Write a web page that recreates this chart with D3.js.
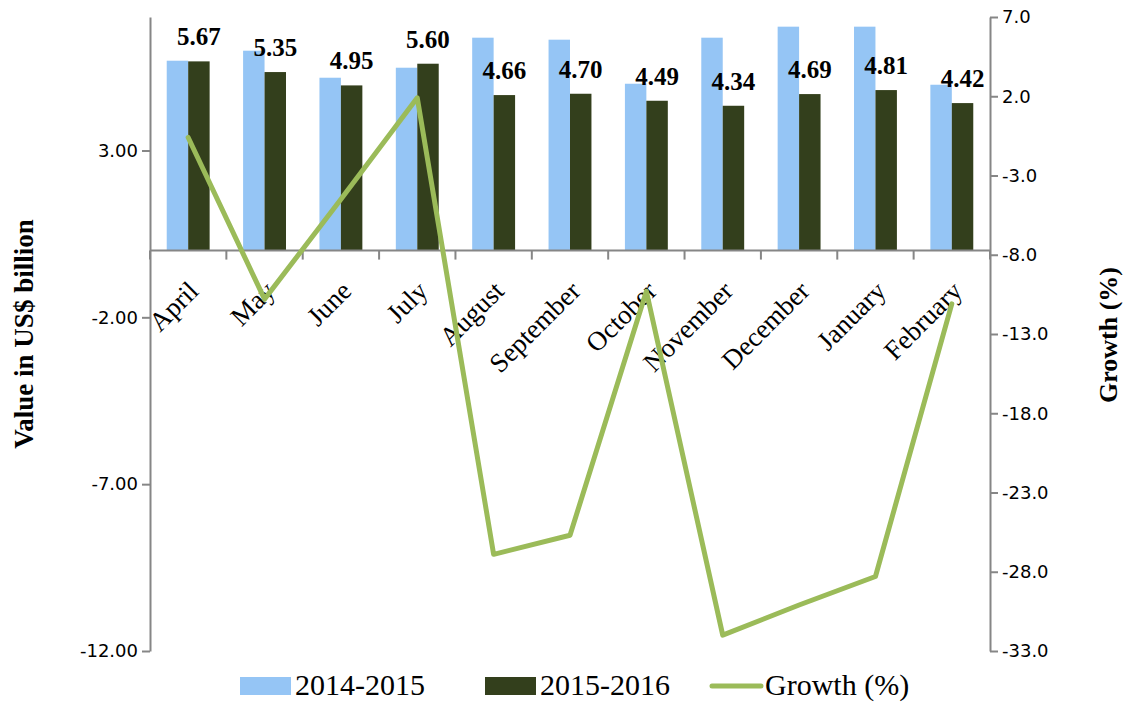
<!DOCTYPE html>
<html>
<head>
<meta charset="utf-8">
<script src="https://cdn.jsdelivr.net/npm/d3@7"></script>
<style>
  body { margin: 0; background: #fff; }
  svg { display: block; }
</style>
</head>
<body>
<div id="chart"></div>
<script>
var months = ["April", "May", "June", "July", "August", "September",
              "October", "November", "December", "January", "February"];
var series = ["2014-2015", "2015-2016"];
var values_2014 = [5.69, 5.99, 5.18, 5.48, 6.38, 6.32, 5.00, 6.38, 6.71, 6.71, 4.97];
var values_2015 = [5.67, 5.35, 4.95, 5.60, 4.66, 4.70, 4.49, 4.34, 4.69, 4.81, 4.42];
var growth = [-0.6, -10.8, -4.5, 1.9, -26.9, -25.7, -10.3, -32.0, -30.1, -28.3, -11.1];
var left_ticks = [3, -2, -7, -12];
var right_ticks = [7, 2, -3, -8, -13, -18, -23, -28, -33];

var colors = { "2014-2015": "#95c5f5", "2015-2016": "#333f1c", growth: "#9bbb59" };
var serif = "'Liberation Serif', 'Times New Roman', serif";
var sans = "'DejaVu Sans', Verdana, sans-serif";

var width = 1124, height = 703;
var margin = { top: 17, right: 134, bottom: 52, left: 150 };

var svg = d3.select("#chart").append("svg")
    .attr("width", width)
    .attr("height", height);

var x = d3.scaleBand()
    .domain(months)
    .range([margin.left, width - margin.right]);

var xInner = d3.scaleBand()
    .domain(series)
    .range([0, x.bandwidth()])
    .paddingOuter(0.78);

var y = d3.scaleLinear()
    .domain([-12, 7])
    .range([height - margin.bottom, margin.top]);

var yRight = d3.scaleLinear()
    .domain([-33, 7])
    .range([height - margin.bottom, margin.top]);

var rows = months.map(function(m, i) {
    return { month: m, "2014-2015": values_2014[i], "2015-2016": values_2015[i], growth: growth[i] };
});

// bars
var groups = svg.append("g").selectAll("g")
    .data(rows)
    .enter().append("g")
    .attr("transform", function(d) { return "translate(" + x(d.month) + ",0)"; });

groups.selectAll("rect")
    .data(function(d) { return series.map(function(s) { return { key: s, value: d[s] }; }); })
    .enter().append("rect")
    .attr("x", function(d) { return xInner(d.key); })
    .attr("width", xInner.bandwidth())
    .attr("y", function(d) { return y(d.value); })
    .attr("height", function(d) { return y(0) - y(d.value); })
    .style("fill", function(d) { return colors[d.key]; });

// data labels on 2015-2016
svg.append("g").selectAll("text")
    .data(rows)
    .enter().append("text")
    .attr("x", function(d) { return x(d.month) + xInner("2015-2016") + xInner.bandwidth() / 2; })
    .attr("y", function(d) { return y(d["2015-2016"]) - 16; })
    .attr("text-anchor", "middle")
    .style("font-family", serif)
    .style("font-weight", "bold")
    .style("font-size", "25px")
    .text(function(d) { return d["2015-2016"].toFixed(2); });

// left axis
var leftAxis = svg.append("g")
    .attr("transform", "translate(" + margin.left + ",0)")
    .call(d3.axisLeft(y).tickValues(left_ticks).tickSize(8).tickSizeOuter(0)
        .tickFormat(function(d) { return d.toFixed(2); }));

// right axis
var rightAxis = svg.append("g")
    .attr("transform", "translate(" + (width - margin.right) + ",0)")
    .call(d3.axisRight(yRight).tickValues(right_ticks).tickSize(8).tickSizeOuter(0)
        .tickFormat(function(d) { return d.toFixed(1); }));

[leftAxis, rightAxis].forEach(function(a) {
    a.select(".domain").style("stroke", "#868686").style("stroke-width", 2);
    a.selectAll(".tick line").style("stroke", "#868686").style("stroke-width", 2);
    a.selectAll(".tick text")
        .style("font-family", sans)
        .style("font-size", "18px")
        .style("fill", "#000");
});
leftAxis.selectAll(".tick text").attr("x", -12);
rightAxis.selectAll(".tick text").attr("x", 12);

// category axis on the zero line
var xAxis = svg.append("g")
    .attr("transform", "translate(0," + y(0) + ")");
xAxis.append("line")
    .attr("x1", margin.left).attr("x2", width - margin.right)
    .style("stroke", "#868686").style("stroke-width", 2);
xAxis.selectAll("line.tick")
    .data(months.concat(["end"]))
    .enter().append("line")
    .attr("class", "tick")
    .attr("x1", function(d, i) { return i < months.length ? x(d) : x.range()[1]; })
    .attr("x2", function(d, i) { return i < months.length ? x(d) : x.range()[1]; })
    .attr("y1", 0).attr("y2", 9)
    .style("stroke", "#868686").style("stroke-width", 2);

svg.append("g").selectAll("text")
    .data(months)
    .enter().append("text")
    .attr("text-anchor", "end")
    .attr("transform", function(d) {
        return "translate(" + (x(d) + x.bandwidth() / 2 + 12) + "," + (y(0) + 42) + ") rotate(-45)";
    })
    .style("font-family", serif)
    .style("font-size", "27px")
    .text(function(d) { return d; });

// growth line
var line = d3.line()
    .x(function(d) { return x(d.month) + x.bandwidth() / 2; })
    .y(function(d) { return yRight(d.growth); });

svg.append("path")
    .datum(rows)
    .attr("d", line)
    .style("fill", "none")
    .style("stroke", colors.growth)
    .style("stroke-width", 5)
    .style("stroke-linejoin", "round")
    .style("stroke-linecap", "round");

// axis titles
svg.append("text")
    .attr("transform", "translate(33," + 334 + ") rotate(-90)")
    .attr("text-anchor", "middle")
    .style("font-family", serif)
    .style("font-weight", "bold")
    .style("font-size", "27px")
    .text("Value in US$ billion");

svg.append("text")
    .attr("transform", "translate(1117," + 335 + ") rotate(-90)")
    .attr("text-anchor", "middle")
    .style("font-family", serif)
    .style("font-weight", "bold")
    .style("font-size", "26px")
    .text("Growth (%)");

// legend
var legendItems = [
    { label: "2014-2015", type: "rect", color: colors["2014-2015"], x: 240 },
    { label: "2015-2016", type: "rect", color: colors["2015-2016"], x: 485 },
    { label: "Growth (%)", type: "line", color: colors.growth, x: 710 }
];
var legend = svg.append("g").selectAll("g")
    .data(legendItems)
    .enter().append("g")
    .attr("transform", function(d) { return "translate(" + d.x + ",686)"; });

legend.filter(function(d) { return d.type === "rect"; })
    .append("rect")
    .attr("x", 0).attr("y", -9)
    .attr("width", 51).attr("height", 18)
    .style("fill", function(d) { return d.color; });

legend.filter(function(d) { return d.type === "line"; })
    .append("line")
    .attr("x1", 2).attr("x2", 51)
    .style("stroke", function(d) { return d.color; })
    .style("stroke-width", 5)
    .style("stroke-linecap", "round");

legend.append("text")
    .attr("x", 55)
    .attr("y", 9)
    .style("font-family", serif)
    .style("font-size", "30px")
    .text(function(d) { return d.label; });
</script>
</body>
</html>
